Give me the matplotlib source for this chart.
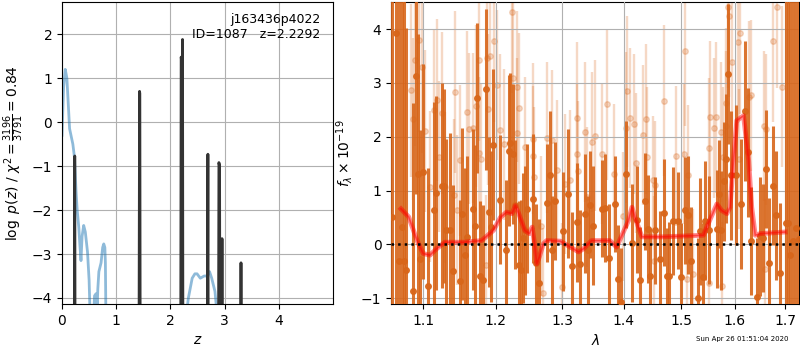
#!/usr/bin/env python3
###
### plot.py
### redshift fit figure: p(z) on the left, 1D spectrum on the right

import numpy as np
import matplotlib
matplotlib.use('AGG')
import matplotlib.pyplot as plt
from matplotlib.ticker import FixedLocator, FixedFormatter, NullLocator

# p(z) curve (log), narrow peaks
pz_z = [0.00, 0.220, 0.235, 0.245, 1.415, 1.430, 1.435, 1.445,
        2.185, 2.197, 2.205, 2.212, 2.222, 2.232, 2.675, 2.690, 2.700,
        2.880, 2.893, 2.905, 2.915, 2.940, 2.950, 2.960, 3.290, 3.300, 3.310, 5.00]
pz_log = [-8, -8, -0.77, -8, -8, 0.70, 0.65, -8,
          -8, 1.48, 1.40, 0.30, 1.88, -8, -8, -0.73, -8,
          -8, -0.92, -1.00, -8, -8, -2.65, -8, -8, -3.20, -8, -8]

# scaled chi2 curve
chi_z = [0.00, 0.03, 0.06, 0.09, 0.14, 0.20, 0.23, 0.26, 0.28, 0.31, 0.33, 0.35,
         0.37, 0.40, 0.43, 0.47, 0.50, 0.52, 0.58, 0.60, 0.63, 0.65, 0.66, 0.68,
         0.72, 0.75, 0.77, 0.79, 0.80, 0.81, 2.28, 2.33, 2.40, 2.45, 2.49, 2.55,
         2.62, 2.67, 2.72, 2.76, 2.82, 2.87]
chi_val = [-0.3, 0.8, 1.2, 1.0, -0.15, -0.5, -0.8, -1.6, -2.0, -2.4, -2.8, -3.15,
           -2.6, -2.35, -2.5, -2.95, -3.6, -4.5, -4.5, -3.95, -3.9, -4.2, -3.8, -3.4,
           -3.2, -2.85, -2.77, -2.85, -3.2, -4.5, -4.5, -4.0, -3.55, -3.45, -3.45, -3.55,
           -3.5, -3.5, -3.4, -3.55, -3.85, -4.5]

# spectrum, first set (dark)
wave_a = [1.0595, 1.064, 1.068, 1.072, 1.075, 1.078, 1.087, 1.090, 1.093, 1.096,
          1.100, 1.107, 1.115, 1.117, 1.125, 1.128, 1.131, 1.136, 1.140, 1.150,
          1.152, 1.157, 1.160, 1.168, 1.171, 1.174, 1.178, 1.182, 1.187, 1.190,
          1.194, 1.197, 1.206, 1.215, 1.219, 1.221, 1.226, 1.228, 1.235, 1.238,
          1.240, 1.244, 1.247, 1.255, 1.260, 1.265, 1.277, 1.281, 1.285, 1.289,
          1.301, 1.310, 1.316, 1.323, 1.329, 1.336, 1.341, 1.345, 1.349, 1.364,
          1.369, 1.376, 1.385, 1.391, 1.395, 1.404, 1.414, 1.422, 1.427, 1.437,
          1.441, 1.445, 1.454, 1.463, 1.470, 1.475, 1.479, 1.486, 1.494, 1.500,
          1.507, 1.512, 1.518, 1.530, 1.534, 1.540, 1.544, 1.551, 1.566, 1.570,
          1.574, 1.579, 1.583, 1.588, 1.593, 1.602, 1.613, 1.620, 1.625, 1.631,
          1.643, 1.650, 1.655, 1.661, 1.668, 1.675, 1.682, 1.689, 1.702, 1.705,
          1.709, 1.716, 1.723, 1.729]
flux_a = [0.50, 3.93, -0.30, 0.33, -0.31, -0.48, -0.87, 3.13, 1.30, -0.27,
          1.35, -0.78, 0.64, 0.95, 1.09, 1.09, 0.26, 0.26, -0.49, -0.68,
          0.57, -0.19, 0.14, 0.65, 0.34, 2.72, -0.59, -0.67, 2.88, 0.60,
          0.33, 1.85, 0.83, -0.11, 1.74, 1.88, 1.68, 0.74, -0.39, -0.47,
          0.12, 0.26, 0.66, 0.85, -0.35, -0.72, 0.77, 1.28, -0.10, 0.81,
          0.24, 0.94, -0.40, 0.41, -0.37, 0.57, -0.11, 0.74, 0.35, 0.66,
          0.68, -0.25, 0.75, -0.64, -1.07, 1.30, 0.03, 0.46, -0.67, 0.80,
          0.29, -0.59, 0.26, -0.28, 0.59, -0.59, -0.59, 0.43, 0.44, -0.60,
          0.63, 0.55, -0.31, -0.99, 0.24, -0.60, 0.44, 0.27, 0.29, 0.94,
          0.26, 1.17, 1.59, 3.17, 1.28, 1.28, 0.75, 2.48, 1.71, 0.06,
          -0.98, 0.15, 0.12, 1.40, -0.34, 1.09, 0.54, -0.54, 0.40, 0.40,
          -0.20, 0.07, 0.30, 0.10]
err_a = [6.0, 6.0, 6.0, 5.0, 5.0, 4.5, 3.5, 2.2, 2.6, 2.4,
         2.0, 2.2, 2.0, 1.8, 1.9, 1.8, 1.7, 1.8, 1.6, 1.5,
         1.6, 1.6, 1.5, 1.5, 1.5, 1.4, 1.4, 1.4, 1.5, 1.4,
         1.4, 1.4, 1.2, 1.3, 1.4, 1.3, 1.3, 1.2, 1.2, 1.3,
         1.2, 1.2, 1.2, 1.2, 1.1, 1.2, 1.1, 1.2, 1.0, 1.1,
         1.1, 1.2, 1.0, 1.1, 1.0, 1.1, 1.0, 1.0, 1.1, 0.9,
         1.0, 1.0, 0.9, 1.0, 1.0, 1.0, 1.1, 1.0, 1.0, 0.9,
         1.0, 0.9, 1.0, 0.9, 1.0, 0.9, 1.0, 1.0, 0.9, 1.0,
         1.0, 1.1, 1.0, 1.1, 1.0, 1.0, 1.1, 1.0, 1.1, 1.0,
         1.1, 1.1, 1.2, 1.3, 1.2, 1.3, 1.2, 1.3, 1.2, 1.0,
         1.1, 1.1, 1.0, 1.1, 1.2, 1.1, 1.2, 1.3, 6.0, 6.0,
         6.0, 6.0, 6.0, 6.0]

# spectrum, second set (light)
wave_b = [1.084, 1.086, 1.089, 1.094, 1.099, 1.102, 1.109, 1.115, 1.118, 1.121,
          1.125, 1.129, 1.141, 1.143, 1.146, 1.150, 1.159, 1.163, 1.168, 1.172,
          1.176, 1.177, 1.179, 1.187, 1.188, 1.189, 1.192, 1.198, 1.202, 1.206,
          1.213, 1.224, 1.225, 1.231, 1.232, 1.235, 1.244, 1.255, 1.256, 1.257,
          1.268, 1.271, 1.277, 1.284, 1.292, 1.300, 1.305, 1.313, 1.323, 1.324,
          1.325, 1.336, 1.340, 1.348, 1.352, 1.364, 1.372, 1.383, 1.399, 1.404,
          1.406, 1.411, 1.418, 1.421, 1.433, 1.438, 1.439, 1.450, 1.452, 1.454,
          1.470, 1.491, 1.505, 1.508, 1.510, 1.512, 1.522, 1.552, 1.552, 1.554,
          1.561, 1.565, 1.574, 1.576, 1.577, 1.583, 1.584, 1.588, 1.589, 1.595,
          1.607, 1.609, 1.611, 1.627, 1.632, 1.658, 1.660, 1.662, 1.675, 1.683, 1.693]
flux_b = [2.86, 2.33, 3.42, 3.79, 3.30, 2.11, 1.07, 2.49, 2.68, 1.63,
          2.44, 1.06, 0.92, 2.83, 0.64, 1.56, 2.46, 2.15, 2.16, 2.57,
          3.42, 1.70, 1.59, -0.38, 3.47, 2.51, 3.50, 3.77, 2.96, 2.13,
          1.86, 4.31, 3.09, 2.06, 2.93, 2.53, 1.80, 1.96, 1.65, 1.26,
          0.35, -0.90, 1.98, 1.93, 1.38, -0.80, 1.12, 1.20, 2.35, 1.68,
          1.36, 2.09, 0.88, 1.90, 2.02, 1.67, 2.60, 1.31, 0.52, 2.17,
          2.84, 2.35, 2.23, 1.51, 2.04, 2.33, 1.63, 1.19, -0.30, 1.10,
          2.67, 1.65, 1.68, 3.60, -0.65, 1.28, -0.55, 1.79, -0.72, 2.37,
          2.16, 2.36, 2.08, -0.78, 1.63, 2.20, 2.62, 4.41, 4.24, 3.39,
          3.76, 1.59, 3.93, 2.74, 2.77, 2.20, -0.45, 2.14, 3.77, 4.40, 2.93]
err_b = [1.6, 1.5, 1.6, 1.7, 1.6, 1.5, 1.4, 1.5, 1.5, 1.4,
         1.5, 1.4, 1.4, 1.5, 1.4, 1.4, 1.5, 1.4, 1.4, 1.5,
         1.5, 1.4, 1.4, 1.3, 1.5, 1.4, 1.5, 1.5, 1.4, 1.4,
         1.4, 1.5, 1.4, 1.4, 1.4, 1.4, 1.3, 1.4, 1.3, 1.3,
         1.3, 1.2, 1.4, 1.3, 1.3, 1.2, 1.3, 1.3, 1.4, 1.3,
         1.3, 1.3, 1.3, 1.3, 1.4, 1.3, 1.4, 1.3, 1.2, 1.4,
         1.4, 1.3, 1.3, 1.3, 1.3, 1.4, 1.3, 1.2, 1.2, 1.2,
         1.4, 1.3, 1.3, 1.4, 1.2, 1.3, 1.2, 1.3, 1.2, 1.4,
         1.3, 1.4, 1.3, 1.2, 1.3, 1.4, 1.4, 1.5, 1.5, 1.4,
         1.5, 1.3, 1.5, 1.4, 1.4, 1.4, 1.3, 1.4, 1.5, 1.5, 1.5]

# best-fit model
model_wave = [1.071, 1.081, 1.092, 1.100, 1.109, 1.118, 1.129, 1.155, 1.180, 1.197,
              1.207, 1.216, 1.224, 1.229, 1.234, 1.243, 1.250, 1.254, 1.257, 1.261,
              1.265, 1.271, 1.276, 1.297, 1.313, 1.326, 1.334, 1.347, 1.377, 1.388,
              1.397, 1.408, 1.414, 1.419, 1.431, 1.468, 1.541, 1.547, 1.566, 1.575,
              1.585, 1.591, 1.597, 1.604, 1.617, 1.627, 1.633, 1.640, 1.650, 1.700]
model_flux = [0.66, 0.51, 0.07, -0.17, -0.20, -0.08, 0.04, 0.04, 0.07, 0.26,
              0.50, 0.60, 0.57, 0.72, 0.57, 0.26, 0.20, 0.32, 0.07, -0.36,
              -0.23, 0.01, 0.07, 0.06, -0.05, -0.14, -0.08, 0.07, 0.07, -0.05,
              0.17, 0.44, 0.69, 0.50, 0.14, 0.14, 0.17, 0.32, 0.75, 0.63,
              0.57, 0.69, 1.49, 2.30, 2.39, 1.56, 0.69, 0.17, 0.20, 0.23]

root_name = 'j163436p4022'
obj_id = 1087
z_best = 2.2292
chi2_num, chi2_den = 3196, 3791
date_str = 'Sun Apr 26 01:51:04 2020'

ORANGE = '#d8661a'

fig = plt.figure(figsize=(8, 3.5), dpi=100)
ax1 = fig.add_axes([0.0775, 0.131, 0.339, 0.863])
ax2 = fig.add_axes([0.489, 0.131, 0.510, 0.863])

#
# p(z) panel
#
ax1.plot(chi_z, chi_val, color='#1f77b4', alpha=0.5, lw=2)
ax1.plot(pz_z, pz_log, color='0.2', lw=2)
ax1.set_xlim(0, 5.0)
ax1.set_ylim(-4.14, 2.73)
ax1.set_xticks([0, 1, 2, 3, 4])
ax1.set_yticks([-4, -3, -2, -1, 0, 1, 2])
ax1.grid(True)
ax1.set_xlabel('$z$')
ax1.set_ylabel(r'$\log\ p(z)$ / $\chi^2=\frac{%d}{%d}=%.2f$'
               % (chi2_num, chi2_den, chi2_num / chi2_den))
ax1.text(0.952, 0.965, f'{root_name}\nID={obj_id}   z={z_best:.4f}',
         transform=ax1.transAxes, ha='right', va='top', fontsize=9)

#
# spectrum panel
#
ax2.errorbar(wave_b, flux_b, err_b, marker='o', ms=4, color=ORANGE,
             alpha=0.25, linestyle='None', elinewidth=1.7, zorder=2)
ax2.errorbar(wave_a, flux_a, err_a, marker='o', ms=4, color=ORANGE,
             alpha=0.9, linestyle='None', elinewidth=2.2, zorder=3)
ax2.plot(model_wave, model_flux, color='r', alpha=0.45, lw=3.5, zorder=4)
ax2.plot(model_wave, model_flux, color='r', alpha=0.5, lw=1.2, zorder=4)
ax2.axhline(0, color='k', linestyle=':', lw=1.8, zorder=5)

ax2.set_xscale('log')
ax2.set_xlim(1.0585, 1.729)
ax2.set_ylim(-1.11, 4.5)
ticks = [1.1, 1.2, 1.3, 1.4, 1.5, 1.6, 1.7]
ax2.xaxis.set_major_locator(FixedLocator(ticks))
ax2.xaxis.set_major_formatter(FixedFormatter([f'{t:.1f}' for t in ticks]))
ax2.xaxis.set_minor_locator(NullLocator())
ax2.set_yticks([-1, 0, 1, 2, 3, 4])
ax2.set_axisbelow(False)
ax2.grid(True, zorder=6)
ax2.set_xlabel(r'$\lambda$')
ax2.set_ylabel(r'$f_\lambda\times 10^{-19}$')

fig.text(0.985, 0.022, date_str, ha='right', va='bottom', fontsize=5)

fig.savefig('out.png', dpi=100)
plt.close(fig)
